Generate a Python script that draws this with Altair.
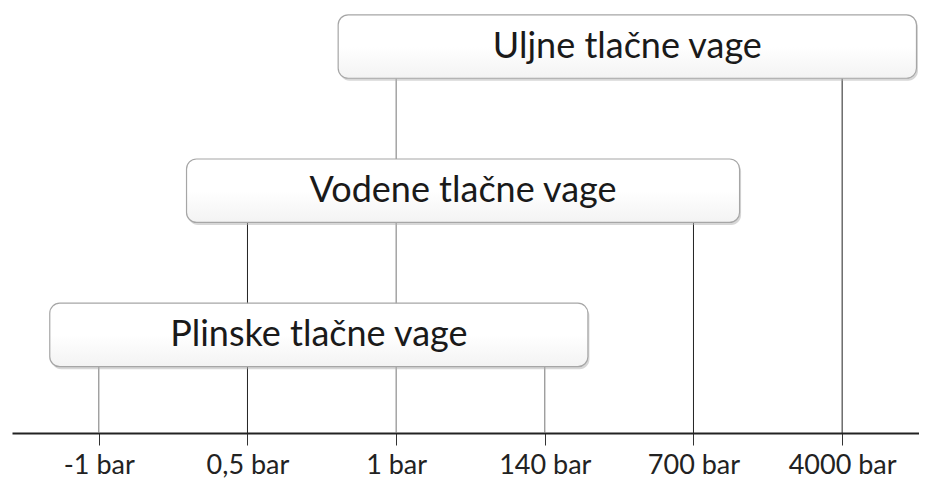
import json
import altair as alt
import pandas as pd

# ---- data ----
categories = ["-1 bar", "0,5 bar", "1 bar", "140 bar", "700 bar", "4000 bar"]
tick_idx = [0, 1, 2, 3, 4, 5]

box_names = ["Plinske tlačne vage", "Vodene tlačne vage", "Uljne tlačne vage"]
box_level = [1, 2, 3]
box_low_idx = [0, 1, 2]     # index of lower pressure limit
box_high_idx = [3, 4, 5]    # index of upper pressure limit
box_start = [-0.33, 0.59, 1.61]
box_end = [3.29, 4.31, 5.50]

# ---- layout / style ----
half_h = 0.22
y_domain = [0.32, 3.267]
x_domain = [-0.584, 5.517]
font = "Lato"

boxes = pd.DataFrame({
    "name": box_names,
    "level": box_level,
    "start": box_start,
    "end": box_end,
})
boxes["top"] = boxes["level"] + half_h
boxes["bottom"] = boxes["level"] - half_h
boxes["mid"] = (boxes["start"] + boxes["end"]) / 2

rule_rows = []
for i, lvl in enumerate(box_level):
    for idx in (box_low_idx[i], box_high_idx[i]):
        rule_rows.append({"idx": idx, "label": categories[idx],
                          "ytop": lvl - half_h, "ybot": y_domain[0]})
rules = pd.DataFrame(rule_rows)

label_expr = json.dumps(categories) + "[datum.value]"

xs = alt.Scale(domain=x_domain, nice=False, zero=False)
ys = alt.Scale(domain=y_domain, nice=False, zero=False)
x_axis = alt.Axis(values=tick_idx, labelExpr=label_expr, title=None, grid=False,
                  domainColor="#222", domainWidth=2, tickColor="#333", tickWidth=1,
                  tickSize=12, labelFont=font, labelFontSize=27, labelColor="#222",
                  labelPadding=20, labelBaseline="middle", labelFlush=False,
                  labelOverlap=False)

rule_colors = alt.Scale(domain=categories,
                        range=["#777", "#222", "#777", "#777", "#222", "#222"])

rule_layer = alt.Chart(rules).mark_rule(strokeWidth=1).encode(
    x=alt.X("idx:Q", scale=xs, axis=x_axis),
    y=alt.Y("ytop:Q", scale=ys, axis=None),
    y2="ybot:Q",
    color=alt.Color("label:N", scale=rule_colors, legend=None),
)

shadow = alt.Chart(boxes).mark_rect(cornerRadius=10, fill="#b0b0b0", opacity=0.5,
                                    xOffset=1.5, x2Offset=1.5, yOffset=2.5, y2Offset=2.5).encode(
    x=alt.X("start:Q", scale=xs, axis=x_axis),
    x2="end:Q",
    y=alt.Y("top:Q", scale=ys, axis=None),
    y2="bottom:Q",
)

grad = alt.LinearGradient(
    gradient="linear",
    stops=[alt.GradientStop(color="#ffffff", offset=0),
           alt.GradientStop(color="#ffffff", offset=0.5),
           alt.GradientStop(color="#f3f3f3", offset=1)],
    x1=0, x2=0, y1=0, y2=1,
)

box_layer = alt.Chart(boxes).mark_rect(cornerRadius=10, fill=grad, stroke="#a6a6a6",
                                       strokeWidth=1.2).encode(
    x=alt.X("start:Q", scale=xs, axis=x_axis),
    x2="end:Q",
    y=alt.Y("top:Q", scale=ys, axis=None),
    y2="bottom:Q",
)

text_layer = alt.Chart(boxes).mark_text(font=font, fontSize=36, color="#1a1a1a",
                                        align="center", baseline="middle").encode(
    x=alt.X("mid:Q", scale=xs, axis=x_axis),
    y=alt.Y("level:Q", scale=ys, axis=None),
    text="name:N",
)

chart = alt.layer(rule_layer, shadow, box_layer, text_layer).properties(
    width=907,
    height=425,
    padding={"left": 4, "top": 0, "right": 0, "bottom": 47},
    autosize=alt.AutoSizeParams(type="none"),
    background="white",
).configure_view(stroke=None)

chart.save("out.html", embed_options={"renderer": "svg", "actions": False})
